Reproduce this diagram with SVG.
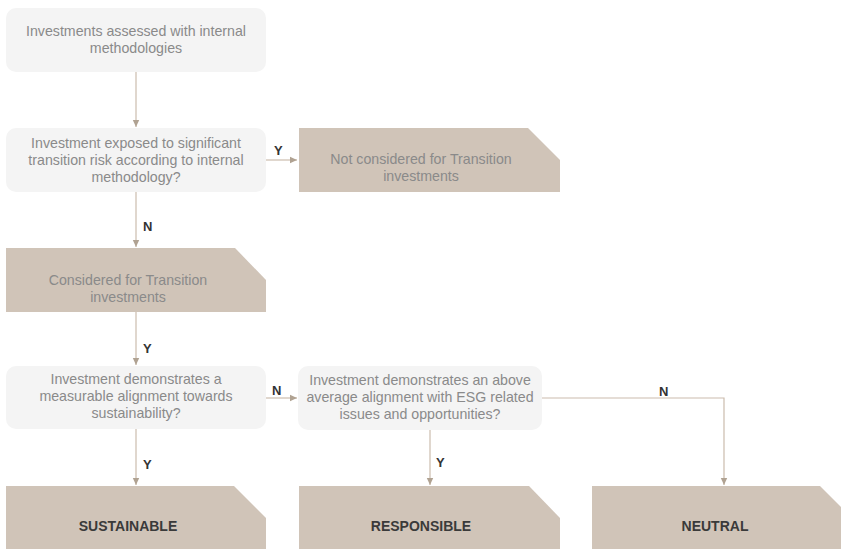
<svg xmlns="http://www.w3.org/2000/svg" width="841" height="549" viewBox="0 0 841 549">
<defs>
<style>
.q{fill:#f4f4f4}
.r{fill:#d0c4b8}
.t{font-family:"Liberation Sans",Arial,sans-serif;font-size:14.2px;fill:#8a8a8a;text-anchor:middle}
.b{font-family:"Liberation Sans",Arial,sans-serif;font-size:14px;font-weight:bold;fill:#3a3a3a;text-anchor:middle}
.l{font-family:"Liberation Sans",Arial,sans-serif;font-size:13px;font-weight:bold;fill:#333}
.c{fill:none;stroke:#cbbcad;stroke-width:1.2}
</style>
<marker id="ah" markerWidth="8" markerHeight="8" refX="7" refY="4" orient="auto" markerUnits="userSpaceOnUse">
<path d="M0,0.8 L7,4 L0,7.2 Z" fill="#b0a292"/>
</marker>
</defs>
<rect width="841" height="549" fill="#fff"/>
<g id="connectors">
<path class="c" d="M136,72 V127" marker-end="url(#ah)"/>
<path class="c" d="M266,160 H297" marker-end="url(#ah)"/>
<path class="c" d="M136,192 V247" marker-end="url(#ah)"/>
<path class="c" d="M136,312 V365" marker-end="url(#ah)"/>
<path class="c" d="M266,398 H297" marker-end="url(#ah)"/>
<path class="c" d="M136,429 V485" marker-end="url(#ah)"/>
<path class="c" d="M430,430 V485" marker-end="url(#ah)"/>
<path class="c" d="M542,398 H724 V485" marker-end="url(#ah)"/>
<text class="l" x="274" y="155">Y</text>
<text class="l" x="143" y="231">N</text>
<text class="l" x="143" y="353">Y</text>
<text class="l" x="272" y="395">N</text>
<text class="l" x="143" y="469">Y</text>
<text class="l" x="436" y="467">Y</text>
<text class="l" x="659" y="396">N</text>
</g>
<g id="n1">
<rect class="q" x="6" y="8" width="260" height="64" rx="10"/>
<text class="t" x="136" y="36">Investments assessed with internal</text>
<text class="t" x="136" y="53">methodologies</text>
</g>
<g id="n2">
<rect class="q" x="6" y="128" width="260" height="64" rx="10"/>
<text class="t" x="136" y="148">Investment exposed to significant</text>
<text class="t" x="136" y="165">transition risk according to internal</text>
<text class="t" x="136" y="182">methodology?</text>
</g>
<g id="n3">
<path class="r" d="M299,128 H528 L560,160 V192 H299 Z"/>
<text class="t" x="421" y="164">Not considered for Transition</text>
<text class="t" x="421" y="181">investments</text>
</g>
<g id="n4">
<path class="r" d="M6,248 H235 L266,280 V312 H6 Z"/>
<text class="t" x="128" y="285">Considered for Transition</text>
<text class="t" x="128" y="302">investments</text>
</g>
<g id="n5">
<rect class="q" x="6" y="366" width="260" height="63" rx="10"/>
<text class="t" x="136" y="384">Investment demonstrates a</text>
<text class="t" x="136" y="401">measurable alignment towards</text>
<text class="t" x="136" y="418">sustainability?</text>
</g>
<g id="n6">
<rect class="q" x="298" y="366" width="244" height="64" rx="10"/>
<text class="t" x="420" y="385">Investment demonstrates an above</text>
<text class="t" x="420" y="402">average alignment with ESG related</text>
<text class="t" x="420" y="419">issues and opportunities?</text>
</g>
<g id="n7">
<path class="r" d="M6,486 H234 L266,518 V549 H6 Z"/>
<text class="b" x="128" y="531">SUSTAINABLE</text>
</g>
<g id="n8">
<path class="r" d="M299,486 H529 L560,518 V549 H299 Z"/>
<text class="b" x="421" y="531">RESPONSIBLE</text>
</g>
<g id="n9">
<path class="r" d="M592,486 H820 L852,518 V549 H592 Z"/>
<text class="b" x="715" y="531">NEUTRAL</text>
</g>
</svg>
